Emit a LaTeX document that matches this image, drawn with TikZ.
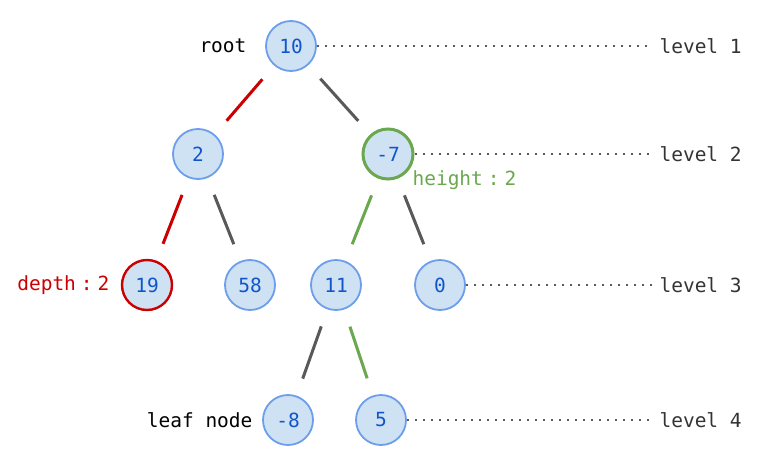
\documentclass[tikz,border=0pt]{standalone}
\usepackage{fontspec}
\setmonofont{DejaVu Sans Mono}
\usepackage{xcolor}
\definecolor{nodefill}{HTML}{CFE2F3}
\definecolor{nodeline}{HTML}{6D9EEB}
\definecolor{nodetext}{HTML}{1155CC}
\definecolor{pathred}{HTML}{CC0000}
\definecolor{pathgreen}{HTML}{6AA84F}
\definecolor{edgegray}{HTML}{595959}
\definecolor{leveltext}{HTML}{333333}

\begin{document}
\begin{tikzpicture}[x=1pt,y=-1pt,
        font=\ttfamily\fontsize{19.5}{22}\selectfont,
        treenode/.style={circle,draw=nodeline,fill=nodefill,line width=1.8pt,
            minimum size=50pt,inner sep=0pt,text=nodetext},
        edge/.style={edgegray,line width=3pt,shorten <=18pt,shorten >=18pt},
        levelline/.style={edgegray,line width=2.2pt,dash pattern=on 2.2pt off 5.8pt},
        leveltag/.style={anchor=west,text=leveltext}]
    \useasboundingbox (0,0) rectangle (763,466);
    % nodes
    \node[treenode] (n10) at (291,46) {10};
    \node[treenode] (n2) at (198,154) {2};
    \node[treenode,draw=pathgreen,line width=3pt] (n-7) at (388,154) {-7};
    \node[treenode,draw=pathred,line width=2.4pt] (n19) at (147,285) {19};
    \node[treenode] (n58) at (250,285) {58};
    \node[treenode] (n11) at (336,285) {11};
    \node[treenode] (n0) at (440,285) {0};
    \node[treenode] (n-8) at (288,420) {-8};
    \node[treenode] (n5) at (381,420) {5};
    % edges
    \draw[edge,pathred] (n10) -- (n2);
    \draw[edge] (n10) -- (n-7);
    \draw[edge,pathred] (n2) -- (n19);
    \draw[edge] (n2) -- (n58);
    \draw[edge,pathgreen] (n-7) -- (n11);
    \draw[edge] (n-7) -- (n0);
    \draw[edge] (n11) -- (n-8);
    \draw[edge,pathgreen] (n11) -- (n5);
    % levels
    \coordinate (e1) at (652,46);
    \coordinate (e2) at (652,154);
    \coordinate (e3) at (652,285);
    \coordinate (e4) at (652,420);
    \draw[levelline] (n10.east) -- (e1);
    \draw[levelline] (n-7.east) -- (e2);
    \draw[levelline] (n0.east) -- (e3);
    \draw[levelline] (n5.east) -- (e4);
    \node[leveltag] (l1) at (656,46) {level 1};
    \node[leveltag] (l2) at (656,154) {level 2};
    \node[leveltag] (l3) at (656,285) {level 3};
    \node[leveltag] (l4) at (656,420) {level 4};
    % text
    \node[anchor=east] (root) at (250,46) {root};
    \node[anchor=east] (leaf) at (256,420) {leaf node};
    \node[anchor=west,text=pathgreen] (height) at (409,180) {height\hspace{5pt}:\hspace{5pt}2};
    \node[anchor=east,text=pathred] (depth) at (113,285) {depth\hspace{5pt}:\hspace{5pt}2};
\end{tikzpicture}
\end{document}
